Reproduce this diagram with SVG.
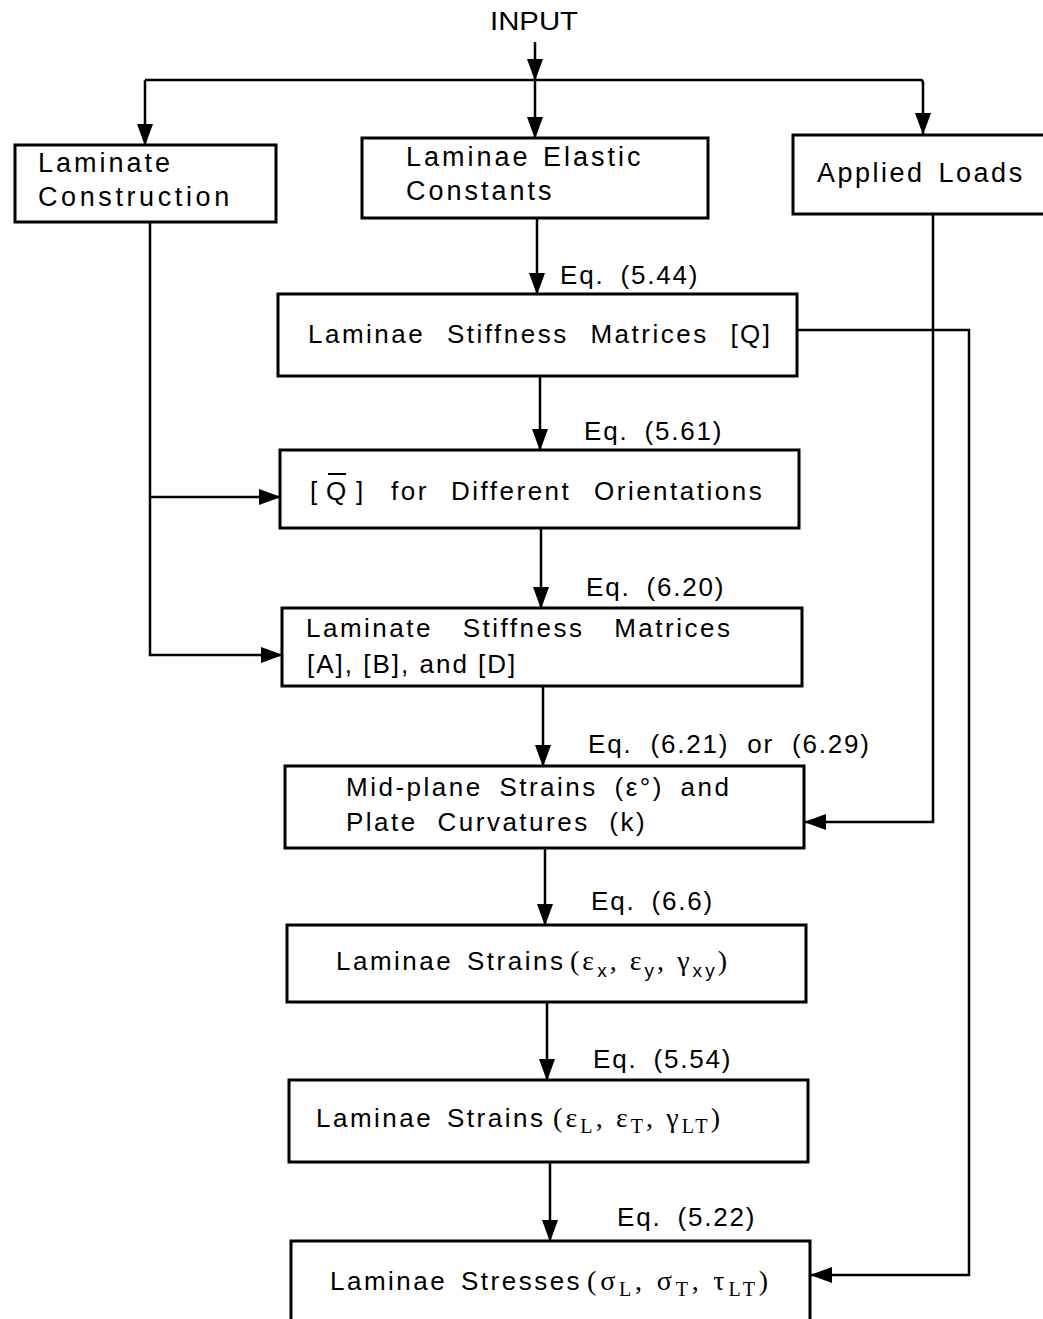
<svg xmlns="http://www.w3.org/2000/svg" width="1043" height="1319" viewBox="0 0 1043 1319">
<defs>
<style>
.box{fill:#fff;stroke:#000;stroke-width:3}
.t{font-family:"Liberation Sans",Arial,sans-serif;font-size:26px;fill:#000;letter-spacing:2.5px}
.top{font-size:27px;letter-spacing:3px}
.eq{letter-spacing:1.8px;word-spacing:7px}
.g{font-family:"Liberation Serif","Times New Roman",serif;font-size:28px;fill:#000}
.s{font-size:20px}
.ss{font-family:"Liberation Sans",Arial,sans-serif;font-size:19px}
.c{fill:none;stroke:#000;stroke-width:2.5}
</style>
<marker id="ah" markerUnits="userSpaceOnUse" markerWidth="24" markerHeight="18" refX="21" refY="8" orient="auto">
<path d="M0,0 L22,8 L0,16 z" fill="#000"/>
</marker>
</defs>
<rect width="1043" height="1319" fill="#fff"/>

<text class="t" x="490" y="30" style="letter-spacing:0" textLength="88" lengthAdjust="spacingAndGlyphs">INPUT</text>

<g id="connectors">
<path class="c" d="M535,42 V80" marker-end="url(#ah)"/>
<path class="c" d="M145,80 H921 Q923,80 923,84"/>
<path class="c" d="M145,80 V145" marker-end="url(#ah)"/>
<path class="c" d="M535,80 V138" marker-end="url(#ah)"/>
<path class="c" d="M923,82 V134" marker-end="url(#ah)"/>
<path class="c" d="M537,218 V294" marker-end="url(#ah)"/>
<path class="c" d="M540,376 V450" marker-end="url(#ah)"/>
<path class="c" d="M541,528 V608" marker-end="url(#ah)"/>
<path class="c" d="M543,686 V766" marker-end="url(#ah)"/>
<path class="c" d="M545,848 V925" marker-end="url(#ah)"/>
<path class="c" d="M547,1002 V1080" marker-end="url(#ah)"/>
<path class="c" d="M550,1162 V1241" marker-end="url(#ah)"/>
<path class="c" d="M150,222 V655 H282" marker-end="url(#ah)"/>
<path class="c" d="M150,497 H280" marker-end="url(#ah)"/>
<path class="c" d="M933,214 V822 H805" marker-end="url(#ah)"/>
<path class="c" d="M797,330 H969 V1275 H811" marker-end="url(#ah)"/>
<text class="t eq" x="560" y="284">Eq. (5.44)</text>
<text class="t eq" x="584" y="440">Eq. (5.61)</text>
<text class="t eq" x="586" y="596">Eq. (6.20)</text>
<text class="t eq" x="588" y="753" style="word-spacing:9px">Eq. (6.21) or (6.29)</text>
<text class="t eq" x="591" y="910">Eq. (6.6)</text>
<text class="t eq" x="593" y="1068">Eq. (5.54)</text>
<text class="t eq" x="617" y="1226">Eq. (5.22)</text>
</g>

<g id="laminate-construction">
<rect class="box" x="15" y="145" width="261" height="77"/>
<text class="t top" x="38" y="172">Laminate</text>
<text class="t top" x="38" y="206" style="letter-spacing:3.6px">Construction</text>
</g>

<g id="elastic-constants">
<rect class="box" x="362" y="138" width="346" height="80"/>
<text class="t top" x="406" y="166" style="word-spacing:2px">Laminae Elastic</text>
<text class="t top" x="406" y="200">Constants</text>
</g>

<g id="applied-loads">
<rect class="box" x="793" y="135" width="260" height="79"/>
<text class="t top" x="817" y="182" style="letter-spacing:2.5px;word-spacing:4px">Applied Loads</text>
</g>

<g id="stiffness-q">
<rect class="box" x="278" y="294" width="519" height="82"/>
<text class="t" x="308" y="343" style="word-spacing:12px">Laminae Stiffness Matrices [Q]</text>
</g>

<g id="qbar">
<rect class="box" x="280" y="450" width="519" height="78"/>
<text class="t" y="500"><tspan x="310">[</tspan><tspan x="326">Q</tspan><tspan x="356">]</tspan><tspan x="391">for</tspan><tspan x="451">Different</tspan><tspan x="594">Orientations</tspan></text>
<line x1="328" y1="474" x2="346" y2="474" stroke="#000" stroke-width="2"/>
</g>

<g id="laminate-stiffness">
<rect class="box" x="282" y="608" width="520" height="78"/>
<text class="t" x="306" y="637" style="word-spacing:20px">Laminate Stiffness Matrices</text>
<text class="t" x="307" y="673" style="letter-spacing:2px;word-spacing:0">[A], [B], and [D]</text>
</g>

<g id="midplane">
<rect class="box" x="285" y="766" width="519" height="82"/>
<text class="t" x="346" y="796" style="word-spacing:7px">Mid-plane Strains (ε°) and</text>
<text class="t" x="346" y="831" style="word-spacing:10px">Plate Curvatures (k)</text>
</g>

<g id="strains-xy">
<rect class="box" x="287" y="925" width="519" height="77"/>
<text class="t" x="336" y="970" style="word-spacing:4px">Laminae Strains</text>
<text class="g" x="570" y="970" textLength="157" lengthAdjust="spacing">(ε<tspan class="ss" dy="7">x</tspan><tspan dy="-7">, ε</tspan><tspan class="ss" dy="7">y</tspan><tspan dy="-7">, γ</tspan><tspan class="ss" dy="7">xy</tspan><tspan dy="-7">)</tspan></text>
</g>

<g id="strains-lt">
<rect class="box" x="289" y="1080" width="519" height="82"/>
<text class="t" x="316" y="1127" style="word-spacing:4px">Laminae Strains</text>
<text class="g" x="553" y="1127" textLength="167" lengthAdjust="spacing">(ε<tspan class="s" dy="6">L</tspan><tspan dy="-6">, ε</tspan><tspan class="s" dy="6">T</tspan><tspan dy="-6">, γ</tspan><tspan class="s" dy="6">LT</tspan><tspan dy="-6">)</tspan></text>
</g>

<g id="stresses">
<rect class="box" x="291" y="1241" width="519" height="90"/>
<text class="t" x="330" y="1290" style="word-spacing:4px">Laminae Stresses</text>
<text class="g" x="587" y="1290" textLength="181" lengthAdjust="spacing">(σ<tspan class="s" dy="6">L</tspan><tspan dy="-6">, σ</tspan><tspan class="s" dy="6">T</tspan><tspan dy="-6">, τ</tspan><tspan class="s" dy="6">LT</tspan><tspan dy="-6">)</tspan></text>
</g>
</svg>
